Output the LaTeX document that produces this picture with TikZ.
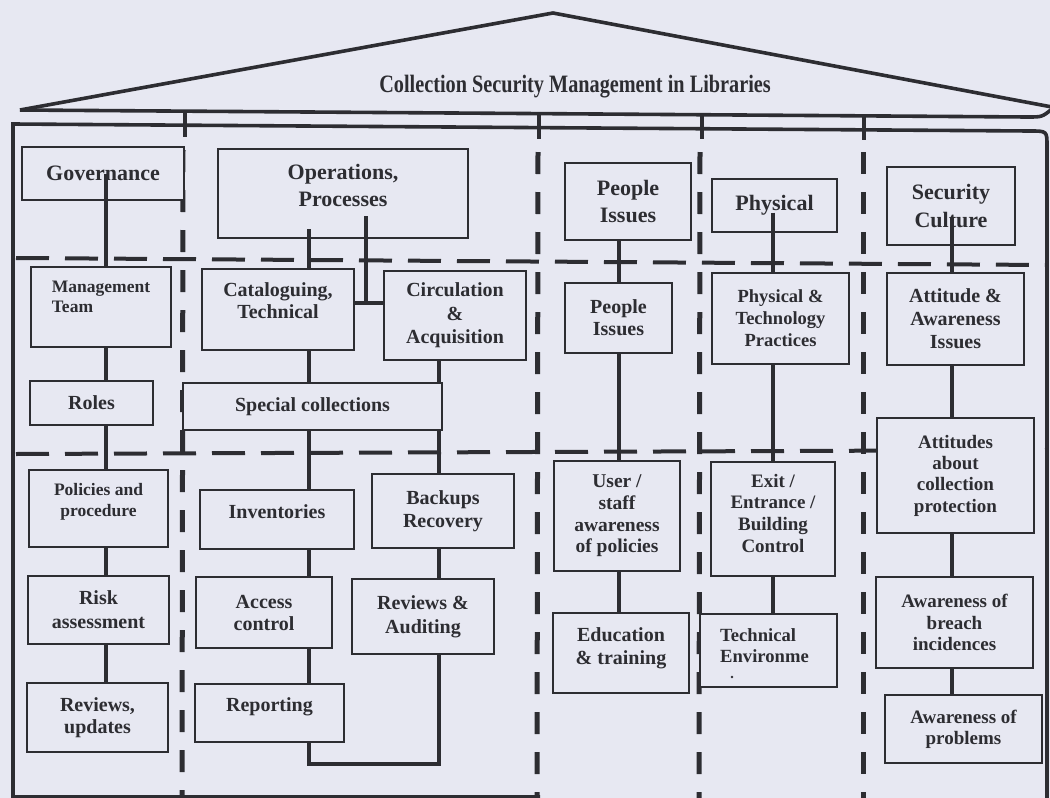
\documentclass[tikz,border=0pt]{standalone}
\usepackage{fontspec}
\setmainfont{Liberation Serif}
\usepackage{graphicx}
\usetikzlibrary{calc}
\definecolor{paper}{RGB}{231,232,242}
\definecolor{ink}{RGB}{45,45,50}
% heading font and body font helpers
\newcommand\fHead{\fontsize{22}{27.5}\selectfont\bfseries}
\newcommand\boxfont[2]{\fontsize{#1}{#2}\selectfont\bfseries}
% text block shifted vertically inside its box without changing the box size
\newcommand\lift[3]{\raisebox{#1}[\height][\depth]{\begin{tabular}{@{}#2@{}}#3\end{tabular}}}
\begin{document}
\begin{tikzpicture}[x=1pt,y=-1pt,
  box/.style={draw=ink, fill=paper, line width=2pt, inner sep=0pt, align=center, text=ink},
  link/.style={draw=ink, line width=3.4pt},
  wall/.style={draw=ink, line width=3.6pt, line join=miter},
  hdash/.style={draw=ink, line width=4pt, dash pattern=on 33pt off 16pt},
  vdash/.style={draw=ink, line width=5pt, dash pattern=on 22pt off 18pt},
  pillar/.style={draw=ink, line width=4.5pt}]

\fill[paper] (0,0) rectangle (1050,798);
\useasboundingbox (0,0) rectangle (1050,798);

% ---- layer separators and column pillars
\draw[hdash] (16,258) -- (1046,265);
\draw[hdash] (16,454) -- (1046,450);
\draw[vdash] (183,150) -- (182,798);
\draw[vdash] (538,152) -- (537,798);
\draw[vdash] (700,152) -- (699,798);
\draw[vdash] (863,152) -- (863,798);

% ---- roof, eaves and walls
\draw[wall] (20,110) -- (553,13) -- (1052,107);
\draw[wall] (20,110) -- (1028,117) .. controls (1042,117) .. (1052,109);
\draw[wall] (540,797) -- (13,797) -- (13,124) -- (1030,131) .. controls (1047,131) .. (1047,146) -- (1047,800);
\draw[pillar] (185,112) -- (185,137);
\draw[pillar] (539,114) -- (539,139);
\draw[pillar] (702,115) -- (702,139);
\draw[pillar] (864,116) -- (864,140);

\node[text=ink, anchor=base] (title) at (575,92)
  {\scalebox{0.81}[1]{\fontsize{25}{30}\selectfont\bfseries Collection Security Management in Libraries}};

% ---- top-level headings
\node[box, font=\fHead, minimum width=162pt, minimum height=53pt] (gov) at (103,173.5) {Governance};
\node[box, font=\fHead, minimum width=250pt, minimum height=89pt] (ops) at (343,193.5) {\lift{6pt}{c}{Operations,\\Processes}};
\node[box, font=\fHead, minimum width=126pt, minimum height=77pt] (ppl) at (628,201.5) {People\\Issues};
\node[box, font=\fHead, minimum width=125pt, minimum height=53pt] (phy) at (774.5,205.5) {Physical};
\node[box, font=\fHead, minimum width=128pt, minimum height=78pt] (sec) at (951,206) {Security\\Culture};

% ---- governance column
\node[box, font=\boxfont{17.5}{20}, minimum width=140pt, minimum height=80pt] (mgmt) at (101,307) {\lift{9pt}{l}{Management\\Team}};
\node[box, font=\boxfont{20}{22.5}, minimum width=123pt, minimum height=44pt] (roles) at (91.5,403) {Roles};
\node[box, font=\boxfont{17.5}{21}, minimum width=139pt, minimum height=77pt] (pol) at (98.5,508.5) {\lift{7pt}{c}{Policies and\\procedure}};
\node[box, font=\boxfont{20}{24}, minimum width=141pt, minimum height=68pt] (risk) at (98.5,610) {Risk\\assessment};
\node[box, font=\boxfont{20}{21.5}, minimum width=141pt, minimum height=69pt] (revu) at (97.5,717.5) {Reviews,\\updates};

% ---- operations column
\node[box, font=\boxfont{20}{22}, minimum width=152pt, minimum height=81pt] (cat) at (278,309.5) {\lift{6.5pt}{c}{Cataloguing,\\Technical}};
\node[box, font=\boxfont{20}{23.5}, minimum width=142pt, minimum height=89pt] (circ) at (455,315.5) {Circulation\\\&\\Acquisition};
\node[box, font=\boxfont{20}{22.5}, minimum width=259pt, minimum height=47pt] (spec) at (312.5,406.5) {Special collections};
\node[box, font=\boxfont{20}{22.5}, minimum width=154pt, minimum height=59pt] (inv) at (277,519.5) {\lift{6pt}{c}{Inventories}};
\node[box, font=\boxfont{20}{22}, minimum width=136pt, minimum height=71pt] (acc) at (264,612.5) {Access\\control};
\node[box, font=\boxfont{20}{22.5}, minimum width=149pt, minimum height=58pt] (rep) at (269.5,713) {\lift{6pt}{c}{Reporting}};
\node[box, font=\boxfont{20}{23}, minimum width=142pt, minimum height=74pt] (back) at (443,511) {Backups\\Recovery};
\node[box, font=\boxfont{20}{24}, minimum width=142pt, minimum height=75pt] (rva) at (423,616.5) {Reviews \&\\Auditing};

% ---- people column
\node[box, font=\boxfont{20}{22}, minimum width=107pt, minimum height=70pt] (ppl2) at (618.5,318) {People\\Issues};
\node[box, font=\boxfont{19.5}{21.7}, minimum width=126pt, minimum height=110pt] (user) at (617,516) {User /\\staff\\awareness\\of policies};
\node[box, font=\boxfont{20}{23}, minimum width=136pt, minimum height=80pt] (edu) at (621,653) {\lift{4.5pt}{c}{Education\\\& training}};

% ---- physical column
\node[box, font=\boxfont{18.5}{22}, minimum width=137pt, minimum height=91pt] (ptp) at (780.5,318.5) {Physical \&\\Technology\\Practices};
\node[box, font=\boxfont{19}{21.7}, minimum width=124pt, minimum height=114pt] (exit) at (773,519) {\lift{3.5pt}{c}{Exit /\\Entrance /\\Building\\Control}};
\node[box, font=\boxfont{18.6}{21}, minimum width=137pt, minimum height=73pt] (tech) at (768.5,650.5) {\lift{3pt}{l}{Technical\\Environme}\hspace{8pt}};
\fill[ink] (732,677) circle (1.4pt);

% ---- security culture column
\node[box, font=\boxfont{20}{23}, minimum width=137pt, minimum height=92pt] (att) at (955.5,319) {Attitude \&\\Awareness\\Issues};
\node[box, font=\boxfont{19}{21.3}, minimum width=157pt, minimum height=115pt] (attab) at (955.5,475.5) {Attitudes\\about\\collection\\protection};
\node[box, font=\boxfont{19}{21.5}, minimum width=157pt, minimum height=91pt] (brch) at (954.5,622.5) {Awareness of\\breach\\incidences};
\node[box, font=\boxfont{19}{21}, minimum width=157pt, minimum height=68pt] (prob) at (963.5,729) {Awareness of\\problems};

% ---- connector axes
\coordinate (axA) at (106,0);
\coordinate (axB) at (309,0);
\coordinate (axJ) at (366,0);
\coordinate (axC) at (439,0);
\coordinate (axD) at (619,0);
\coordinate (axE) at (773,0);
\coordinate (axF) at (952,0);
\coordinate (jrow) at (0,303);
\coordinate (low) at (0,764);

% governance chain
\draw[link] (gov.center -| axA) -- (mgmt.north -| axA);
\draw[link] (mgmt.south -| axA) -- (roles.north -| axA);
\draw[link] (roles.south -| axA) -- (pol.north -| axA);
\draw[link] (pol.south -| axA) -- (risk.north -| axA);
\draw[link] (risk.south -| axA) -- (revu.north -| axA);

% operations tree
\draw[link] ($(ops.south -| axB)+(0,-10)$) -- (cat.north -| axB);
\draw[link] ($(ops.south -| axJ)+(0,-23)$) -- (axJ |- jrow);
\draw[link] (cat.east |- jrow) -- (circ.west |- jrow);
\draw[link] (cat.south -| axB) -- (spec.north -| axB);
\draw[link] (circ.south -| axC) -- (spec.north -| axC);
\draw[link] (spec.south -| axB) -- (inv.north -| axB);
\draw[link] (spec.south -| axC) -- (back.north -| axC);
\draw[link] (inv.south -| axB) -- (acc.north -| axB);
\draw[link] (acc.south -| axB) -- (rep.north -| axB);
\draw[link] (back.south -| axC) -- (rva.north -| axC);
\draw[link, line join=miter] (rep.south -| axB) -- (axB |- low) -- (axC |- low) -- (rva.south -| axC);

% people chain
\draw[link] (ppl.south -| axD) -- (ppl2.north -| axD);
\draw[link] (ppl2.south -| axD) -- (user.north -| axD);
\draw[link] (user.south -| axD) -- (edu.north -| axD);

% physical chain
\draw[link] ($(phy.center -| axE)+(0,7)$) -- (ptp.north -| axE);
\draw[link] (ptp.south -| axE) -- (exit.north -| axE);
\draw[link] (exit.south -| axE) -- (tech.north -| axE);

% security culture chain
\draw[link] ($(sec.center -| axF)+(0,12)$) -- (att.north -| axF);
\draw[link] (att.south -| axF) -- (attab.north -| axF);
\draw[link] (attab.south -| axF) -- (brch.north -| axF);
\draw[link] (brch.south -| axF) -- (prob.north -| axF);
\end{tikzpicture}
\end{document}
